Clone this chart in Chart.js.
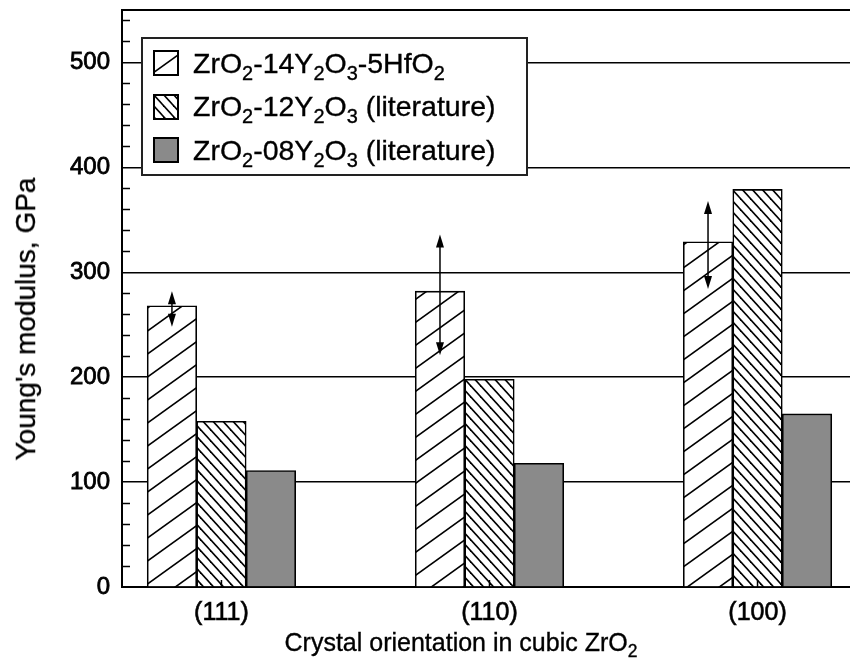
<!DOCTYPE html>
<html>
<head>
<meta charset="utf-8">
<script src="https://cdn.jsdelivr.net/npm/chart.js@4.4.0/dist/chart.umd.min.js"></script>
<style>
  html, body { margin: 0; padding: 0; background: #fff; }
  #wrap { position: relative; width: 850px; height: 671px; font-family: "Liberation Sans", Arial, sans-serif; color: #000; -webkit-text-stroke: 0.35px #000; }
  #chart { position: absolute; left: 0; top: 0; }
  sub { font-size: 0.7em; vertical-align: -0.35em; line-height: 0; }
  .legend { position: absolute; left: 141px; top: 37px; width: 383px; height: 135px; border: 2px solid #222; background: #fff; }
  .legend .row { position: absolute; left: 10px; height: 26px; display: flex; align-items: center; font-size: 28.5px; white-space: nowrap; }
  .legend canvas { width: 26px; height: 26px; margin-right: 14px; flex: none; }
  #xtitle { position: absolute; left: 261px; width: 400px; top: 628px; text-align: center; font-size: 25px; white-space: nowrap; }
  #ytitle { position: absolute; left: 26px; top: 319px; font-size: 28px; white-space: nowrap;
            transform: translate(-50%, -50%) rotate(-90deg); }
</style>
</head>
<body>
<div id="wrap">
  <canvas id="chart" width="850" height="671"></canvas>
  <div class="legend" id="legend"></div>
  <div id="ytitle">Young's modulus, GPa</div>
  <div id="xtitle">Crystal orientation in cubic ZrO<sub>2</sub></div>
</div>
<script>
// crystal orientations along the x axis
const orientations = ["(111)", "(110)", "(100)"];

// Young's modulus, GPa
const hfDoped  = [268, 282, 329];   // ZrO2-14Y2O3-5HfO2
const y12Lit   = [158, 198, 379];   // ZrO2-12Y2O3 (literature)
const y08Lit   = [111, 118, 165];   // ZrO2-08Y2O3 (literature)

// scatter range of the measured values (double arrows)
const hfLow  = [248, 221, 284];
const hfHigh = [282, 336, 368];

const yTickLabels = [0, 100, 200, 300, 400, 500];

const seriesNames = [
  "ZrO<sub>2</sub>-14Y<sub>2</sub>O<sub>3</sub>-5HfO<sub>2</sub>",
  "ZrO<sub>2</sub>-12Y<sub>2</sub>O<sub>3</sub> (literature)",
  "ZrO<sub>2</sub>-08Y<sub>2</sub>O<sub>3</sub> (literature)"
];

const FONT = '"Liberation Sans", Arial, sans-serif';

// ---------- hatch fills ----------
function hatchTile(w, h, dir, lw) {
  const c = document.createElement("canvas");
  c.width = w; c.height = h;
  const g = c.getContext("2d");
  g.fillStyle = "#fff";
  g.fillRect(0, 0, w, h);
  g.strokeStyle = "#000";
  g.lineWidth = lw;
  for (let k = -1; k <= 1; k++) {
    g.beginPath();
    if (dir > 0) {            // "/"
      g.moveTo(-1, h + k * h + h / w);
      g.lineTo(w + 1, k * h - h / w);
    } else {                  // "\"
      g.moveTo(-1, k * h - h / w);
      g.lineTo(w + 1, h + k * h + h / w);
    }
    g.stroke();
  }
  return c;
}

const scratch = document.createElement("canvas").getContext("2d");
const fills = [
  scratch.createPattern(hatchTile(32, 23, 1, 1.6), "repeat"),
  scratch.createPattern(hatchTile(10, 11, -1, 1.6), "repeat"),
  "#8a8a8a"
];

// ---------- legend ----------
const legend = document.getElementById("legend");
seriesNames.forEach((name, i) => {
  const row = document.createElement("div");
  row.className = "row";
  row.style.top = (11 + i * 43.5) + "px";
  const sw = document.createElement("canvas");
  sw.width = 26; sw.height = 26;
  const g = sw.getContext("2d");
  g.fillStyle = fills[i];
  g.fillRect(0, 0, 26, 26);
  g.strokeStyle = "#000";
  g.lineWidth = 2;
  g.strokeRect(1, 1, 24, 24);
  row.appendChild(sw);
  const span = document.createElement("span");
  span.innerHTML = name;
  row.appendChild(span);
  legend.appendChild(row);
});

// ---------- extra drawing: frame, minor ticks, double arrows ----------
function arrowHead(ctx, x, tip, dirUp) {
  const len = 13, half = 4;
  const base = dirUp ? tip + len : tip - len;
  ctx.beginPath();
  ctx.moveTo(x, tip);
  ctx.lineTo(x - half, base);
  ctx.lineTo(x + half, base);
  ctx.closePath();
  ctx.fill();
}

const decorations = {
  id: "decorations",
  afterDatasetsDraw(chart) {
    const ctx = chart.ctx;
    const { left, right, top, bottom } = chart.chartArea;
    const y = chart.scales.y, x = chart.scales.x;
    ctx.save();
    ctx.strokeStyle = "#000";
    ctx.fillStyle = "#000";

    // top frame line
    ctx.lineWidth = 2;
    ctx.beginPath();
    ctx.moveTo(left, top);
    ctx.lineTo(right, top);
    ctx.stroke();

    // inward minor ticks on the value axis
    ctx.lineWidth = 1.5;
    for (let v = 20; v < y.max; v += 20) {
      if (v % 100 === 0) continue;
      const py = Math.round(y.getPixelForValue(v)) + 0.5;
      ctx.beginPath();
      ctx.moveTo(left, py);
      ctx.lineTo(left + 8, py);
      ctx.stroke();
    }

    // inward ticks at each orientation
    x.ticks.forEach((t, i) => {
      const px = x.getPixelForTick(i);
      ctx.beginPath();
      ctx.moveTo(px, bottom);
      ctx.lineTo(px, bottom - 7);
      ctx.stroke();
    });

    // double arrows on the measured bars
    const bars = chart.getDatasetMeta(0).data;
    ctx.lineWidth = 1.5;
    bars.forEach((bar, i) => {
      const yTop = y.getPixelForValue(hfHigh[i]);
      const yBot = y.getPixelForValue(hfLow[i]);
      ctx.beginPath();
      ctx.moveTo(bar.x, yTop + 6);
      ctx.lineTo(bar.x, yBot - 6);
      ctx.stroke();
      arrowHead(ctx, bar.x, yTop, true);
      arrowHead(ctx, bar.x, yBot, false);
    });
    ctx.restore();
  }
};

// ---------- chart ----------
const toPoints = vals => vals.map((v, i) => ({ x: i, y: v }));

new Chart(document.getElementById("chart"), {
  type: "bar",
  data: {
    datasets: [
      { label: "ZrO2-14Y2O3-5HfO2", data: toPoints(hfDoped), backgroundColor: fills[0] },
      { label: "ZrO2-12Y2O3 (literature)", data: toPoints(y12Lit), backgroundColor: fills[1] },
      { label: "ZrO2-08Y2O3 (literature)", data: toPoints(y08Lit), backgroundColor: fills[2] }
    ]
  },
  options: {
    responsive: false,
    animation: false,
    events: [],
    layout: { padding: { top: 10, right: 0, bottom: 0, left: 0 } },
    datasets: {
      bar: {
        barThickness: 49.5,
        borderColor: "#000",
        borderWidth: 1.6,
        borderSkipped: "bottom"
      }
    },
    plugins: {
      legend: { display: false },
      tooltip: { enabled: false }
    },
    scales: {
      x: {
        type: "linear",
        min: -0.371,
        max: 2.345,
        offset: false,
        grid: { display: false, drawTicks: false },
        border: { display: true, color: "#000", width: 2 },
        afterBuildTicks: s => { s.ticks = orientations.map((_, i) => ({ value: i })); },
        afterFit: s => { s.height = 84; s.paddingLeft = 0; s.paddingRight = 0; },
        ticks: {
          autoSkip: false,
          maxRotation: 0,
          padding: 11,
          color: "#000",
          textStrokeColor: "#000",
          textStrokeWidth: 0.6,
          font: { family: FONT, size: 25 },
          callback: v => orientations[v]
        }
      },
      y: {
        min: 0,
        max: 550,
        grid: { color: "#000", lineWidth: 1.5, drawTicks: false },
        border: { display: true, color: "#000", width: 2 },
        afterBuildTicks: s => { s.ticks = yTickLabels.map(v => ({ value: v })); },
        afterFit: s => { s.width = 122; s.paddingTop = 0; s.paddingBottom = 0; },
        ticks: {
          padding: 12,
          color: "#000",
          textStrokeColor: "#000",
          textStrokeWidth: 0.8,
          font: { family: FONT, size: 24 }
        }
      }
    }
  },
  plugins: [decorations]
});
</script>
</body>
</html>
